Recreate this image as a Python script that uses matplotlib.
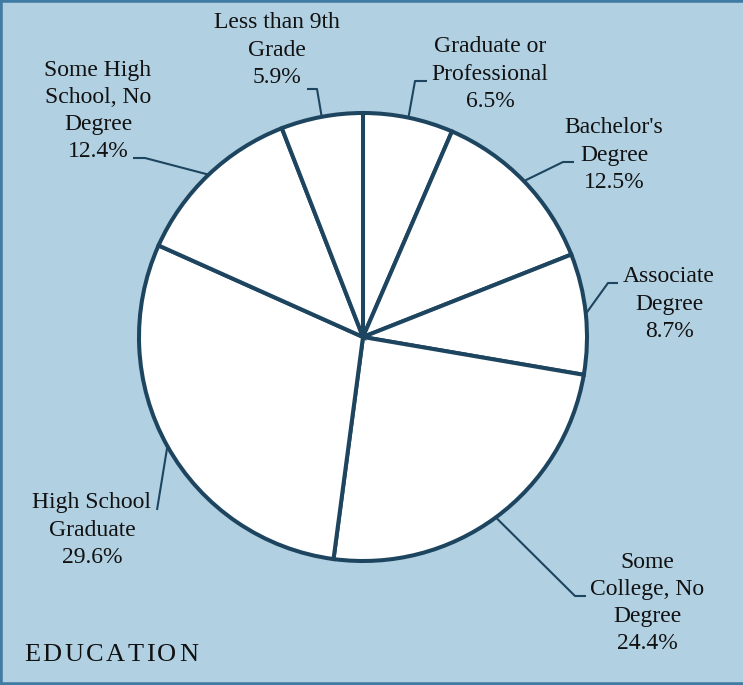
import matplotlib
matplotlib.use('Agg')
import matplotlib.pyplot as plt
import numpy as np

# data
labels = ['Graduate or\nProfessional', "Bachelor's\nDegree", 'Associate\nDegree',
          'Some\nCollege, No\nDegree', 'High School\nGraduate',
          'Some High\nSchool, No\nDegree', 'Less than 9th\nGrade']
values = [6.5, 12.5, 8.7, 24.4, 29.6, 12.4, 5.9]
title = 'EDUCATION'

# layout (pixel coords, y down)
text_pos = [(490, 74), (614, 155), (669, 304), (647, 603), (92, 530), (98, 111), (277, 50)]
elbow = [(415, 81), (563, 162), (608, 283), (575, 596), (157, 510), (145, 158), (317, 89)]
elbow_end = [(427, 81), (574, 162), (618, 283), (586, 596), (157, 510), (133, 158), (307, 89)]

bg = '#b1d0e2'
dark = '#1e455f'
border = '#3f7ba3'
cx, cy, r = 363, 337, 224

plt.rcParams['font.family'] = ['Liberation Serif', 'DejaVu Serif']

fig = plt.figure(figsize=(7.43, 6.85), dpi=100, facecolor=bg)
ax = fig.add_axes([0, 0, 1, 1])
ax.set_xlim(0, 743)
ax.set_ylim(685, 0)
ax.set_aspect('equal')
ax.axis('off')

ax.pie(values, center=(cx, cy), radius=r, startangle=-90, counterclock=True,
       colors=['white'] * len(values),
       wedgeprops=dict(edgecolor=dark, linewidth=2.9))
ax.set_xlim(0, 743)
ax.set_ylim(685, 0)

total = sum(values)
cum = 0
for i, v in enumerate(values):
    mid = np.deg2rad(-90 + 360 * (cum + v / 2) / total)
    cum += v
    ax0 = cx + r * np.cos(mid)
    ay0 = cy + r * np.sin(mid)
    ax.plot([ax0, elbow[i][0], elbow_end[i][0]], [ay0, elbow[i][1], elbow_end[i][1]],
            color=dark, lw=1.5, solid_capstyle='butt')
    txt = labels[i] + '\n' + f'{v:.1f}%'
    ax.text(text_pos[i][0], text_pos[i][1], txt, ha='center', va='center',
            multialignment='center', fontsize=17, linespacing=1.38, color='#111111')

# spaced title, letter by letter
fig.canvas.draw()
rend = fig.canvas.get_renderer()
x = 24
for ch in title:
    t = ax.text(x, 655, ch, fontsize=19, color='#111111', va='center', ha='left')
    w = t.get_window_extent(rend).width
    x += w + 2.5

# frame on top, left, bottom
for xs, ys in [([0, 1], [1, 1]), ([0, 0], [0, 1]), ([0, 1], [0, 0])]:
    fig.add_artist(plt.Line2D(xs, ys, transform=fig.transFigure, color=border, lw=4))

fig.savefig('out.png', dpi=100, facecolor=bg)
